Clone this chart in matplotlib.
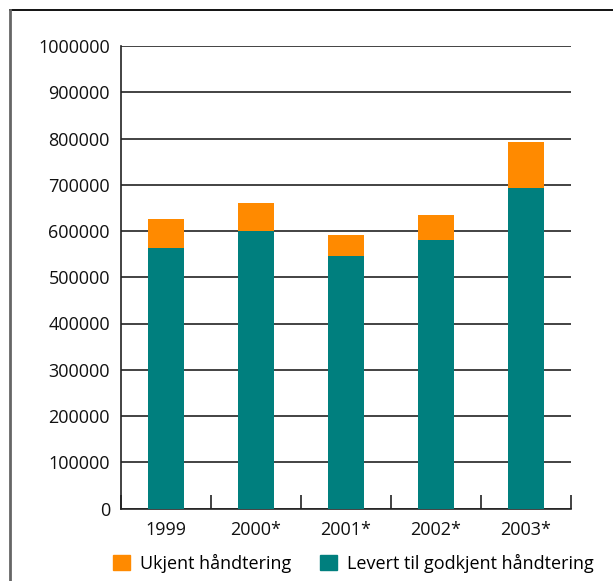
import matplotlib
matplotlib.use("Agg")
import matplotlib.pyplot as plt
from matplotlib.lines import Line2D
from matplotlib.patches import Patch

plt.rcParams['font.family'] = ['Open Sans', 'DejaVu Sans']

years = ["1999", "2000*", "2001*", "2002*", "2003*"]
levert = [564000, 600000, 546000, 580500, 692300]
ukjent = [62600, 60500, 46000, 53500, 100100]
y_ticks = [0, 100000, 200000, 300000, 400000, 500000,
           600000, 700000, 800000, 900000, 1000000]

teal = "#007F7E"
orange = "#FF8A00"

W, H = 613, 581
fig = plt.figure(figsize=(W / 100, H / 100), dpi=100)
ax = fig.add_axes([121 / W, (H - 508.5) / H, 450 / W, 462.5 / H])

x = list(range(len(years)))
ax.bar(x, levert, width=0.4, color=teal, zorder=3)
ax.bar(x, ukjent, width=0.4, bottom=levert, color=orange, zorder=3)

ax.set_xlim(-0.5, len(years) - 0.5)
ax.set_ylim(0, 1000000)
ax.set_yticks(y_ticks)
ax.set_yticklabels([str(v) for v in y_ticks])
ax.set_xticks(x)
ax.set_xticklabels(years)
ax.set_xticks([i + 0.5 for i in range(-1, len(years))], minor=True)

ax.tick_params(axis='y', length=0, pad=8, labelsize=13, colors='#111')
ax.tick_params(axis='x', which='major', length=0, pad=9, labelsize=13, colors='#111')
ax.tick_params(axis='x', which='minor', direction='in', length=10, width=1.2, color='#222')

ax.yaxis.grid(True, color='#222', linewidth=1.2, zorder=1)
ax.set_axisbelow(True)
for s in ['top', 'right']:
    ax.spines[s].set_visible(False)
for s in ['left', 'bottom']:
    ax.spines[s].set_color('#222')
    ax.spines[s].set_linewidth(1.2)

# outer frame: top and left edges
fig.add_artist(Line2D([10 / W, 1.0], [1 - 9.5 / H, 1 - 9.5 / H],
                      transform=fig.transFigure, color='#111', lw=1.4))
fig.add_artist(Line2D([10 / W, 10 / W], [0, 1 - 9.5 / H],
                      transform=fig.transFigure, color='#666', lw=2))

handles = [Patch(color=orange, label="Ukjent håndtering"),
           Patch(color=teal, label="Levert til godkjent håndtering")]
fig.legend(handles=handles, ncol=2, frameon=False, fontsize=13,
           handlelength=0.94, handleheight=0.94, handletextpad=0.55,
           columnspacing=1.6, loc='center left',
           bbox_to_anchor=(97 / W, 1 - 563 / H))

fig.savefig("out.png", dpi=100)
